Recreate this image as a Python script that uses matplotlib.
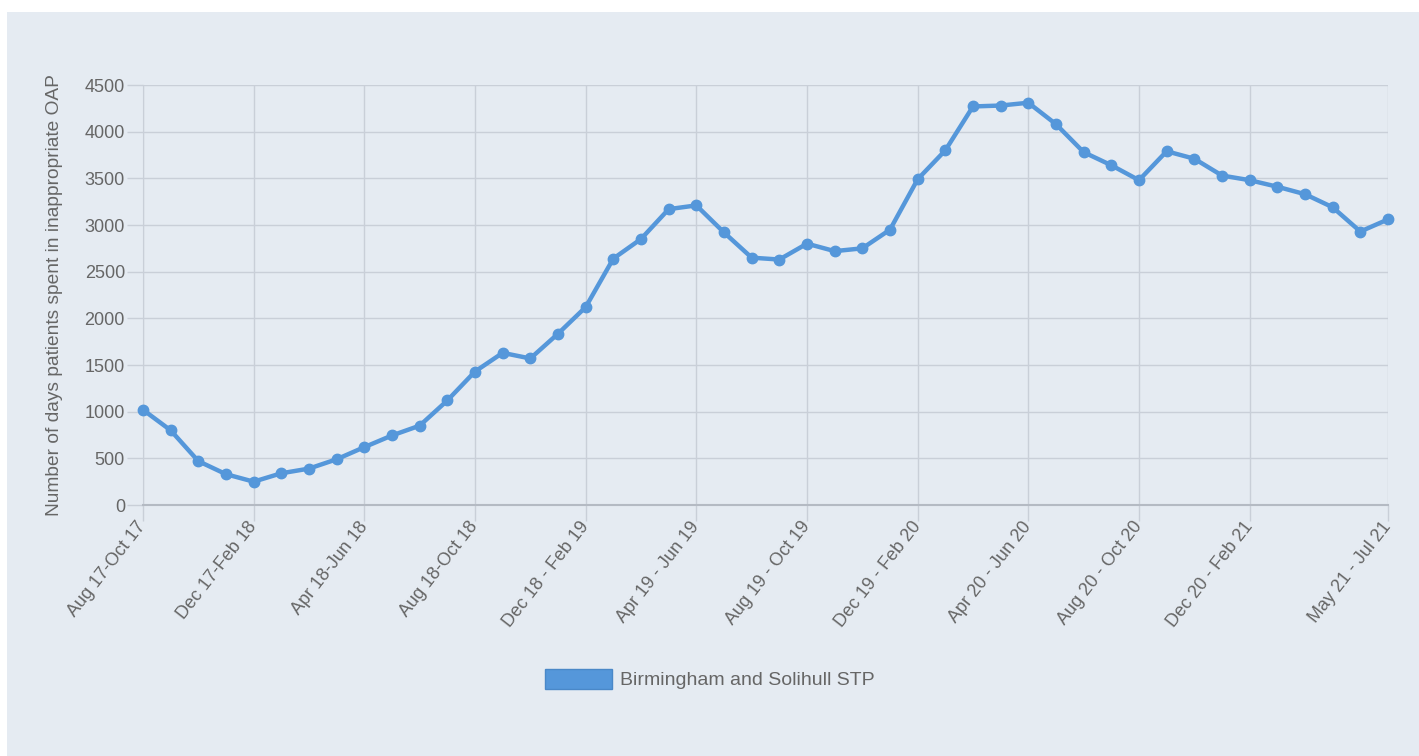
import matplotlib.pyplot as plt
from matplotlib.patches import Rectangle, Patch

periods = [
    'Aug 17-Oct 17', 'Sep 17-Nov 17', 'Oct 17-Dec 17', 'Nov 17-Jan 18',
    'Dec 17-Feb 18', 'Jan 18-Mar 18', 'Feb 18-Apr 18', 'Mar 18-May 18',
    'Apr 18-Jun 18', 'May 18-Jul 18', 'Jun 18-Aug 18', 'Jul 18-Sep 18',
    'Aug 18-Oct 18', 'Sep 18-Nov 18', 'Oct 18-Dec 18', 'Nov 18 - Jan 19',
    'Dec 18 - Feb 19', 'Jan 19 - Mar 19', 'Feb 19 - Apr 19', 'Mar 19 - May 19',
    'Apr 19 - Jun 19', 'May 19 - Jul 19', 'Jun 19 - Aug 19', 'Jul 19 - Sep 19',
    'Aug 19 - Oct 19', 'Sep 19 - Nov 19', 'Oct 19 - Dec 19', 'Nov 19 - Jan 20',
    'Dec 19 - Feb 20', 'Jan 20 - Mar 20', 'Feb 20 - Apr 20', 'Mar 20 - May 20',
    'Apr 20 - Jun 20', 'May 20 - Jul 20', 'Jun 20 - Aug 20', 'Jul 20 - Sep 20',
    'Aug 20 - Oct 20', 'Sep 20 - Nov 20', 'Oct 20 - Dec 20', 'Nov 20 - Jan 21',
    'Dec 20 - Feb 21', 'Jan 21 - Mar 21', 'Feb 21 - Apr 21', 'Mar 21 - May 21',
    'Apr 21 - Jun 21', 'May 21 - Jul 21',
]
days = [
    1020, 800, 470, 330, 250, 340, 390, 490, 620, 745, 850, 1120,
    1430, 1630, 1570, 1835, 2120, 2640, 2850, 3170, 3210, 2920, 2650, 2630,
    2800, 2720, 2750, 2950, 3490, 3800, 4270, 4280, 4310, 4080, 3780, 3640,
    3480, 3790, 3710, 3530, 3480, 3410, 3330, 3190, 2930, 3060,
]
shown = [0, 4, 8, 12, 16, 20, 24, 28, 32, 36, 40, 45]

bg = '#e5ebf2'
grid = '#c9cfd8'
line_col = '#5597da'
txt = '#666666'

plt.rcParams['font.family'] = ['Liberation Sans', 'DejaVu Sans']

fig = plt.figure(figsize=(14.19, 7.56), dpi=100, facecolor='white')
fig.patches.append(Rectangle((7 / 1419, 0), 1, 1 - 12 / 756, transform=fig.transFigure,
                             facecolor=bg, edgecolor='none', zorder=-10))
ax = fig.add_axes([143 / 1419, 1 - 505 / 756, 1245 / 1419, 420 / 756])
ax.set_facecolor(bg)

x = list(range(len(days)))
ax.plot(x, days, color=line_col, lw=3.2, marker='o', ms=7.5, zorder=3, clip_on=False)

ax.set_xlim(0, len(days) - 1)
ax.set_ylim(0, 4500)
ax.set_yticks(range(0, 4501, 500))
ax.set_xticks(shown)
ax.set_xticklabels([periods[i] for i in shown], rotation=52, ha='right', va='center',
                   rotation_mode='anchor')
ax.grid(True, color=grid, lw=1)
ax.set_axisbelow(True)
for s in ['top', 'right']:
    ax.spines[s].set_visible(False)
ax.spines['left'].set_color(grid)
ax.spines['bottom'].set_color('#b4bac3')
ax.spines['bottom'].set_linewidth(1.5)
ax.tick_params(axis='both', length=11.5, width=1, color=grid, labelcolor=txt,
               labelsize=13)
ax.tick_params(axis='y', pad=1.5)
ax.tick_params(axis='x', pad=2)
ax.set_ylabel('Number of days patients spent in inappropriate OAP', color=txt,
              fontsize=13.8)
ax.yaxis.set_label_coords(-0.0645, 0.5)

fig.legend(handles=[Patch(facecolor=line_col, edgecolor='#4a88c8')],
           labels=['Birmingham and Solihull STP'], loc='center',
           bbox_to_anchor=(0.5, 1 - 679 / 756), frameon=False, handlelength=3.45,
           handleheight=1.2, fontsize=14, labelcolor=txt, handletextpad=0.4)

plt.savefig('out.png', dpi=100, facecolor='white')
